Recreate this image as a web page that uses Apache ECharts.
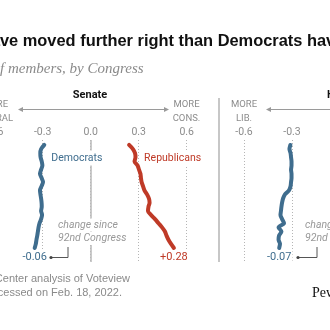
<!DOCTYPE html>
<html>
<head>
<meta charset="utf-8">
<script src="https://cdn.jsdelivr.net/npm/echarts@6/dist/echarts.min.js"></script>
<style>
  html, body { margin: 0; padding: 0; background: #fff; }
  #chart { width: 330px; height: 330px; }
</style>
</head>
<body>
<div id="chart"></div>
<script>
// Congress numbers, top (92nd) to bottom (117th)
const congresses = [92, 93, 94, 95, 96, 97, 98, 99, 100, 101, 102, 103, 104,
  105, 106, 107, 108, 109, 110, 111, 112, 113, 114, 115, 116, 117];

// Average ideology score by party and chamber
const senateDem = [-0.29, -0.31, -0.315, -0.313, -0.306, -0.302, -0.31, -0.317, -0.307,
  -0.298, -0.307, -0.317, -0.314, -0.31, -0.307, -0.306, -0.31, -0.304, -0.31, -0.32,
  -0.326, -0.33, -0.334, -0.339, -0.343, -0.35];
const senateRep = [0.24, 0.264, 0.277, 0.28, 0.274, 0.293, 0.302, 0.311, 0.314, 0.318,
  0.327, 0.336, 0.352, 0.364, 0.368, 0.361, 0.358, 0.377, 0.402, 0.424, 0.446, 0.464,
  0.474, 0.486, 0.502, 0.52];
const houseDem = [-0.31, -0.316, -0.309, -0.306, -0.303, -0.303, -0.306, -0.303, -0.303,
  -0.306, -0.309, -0.319, -0.344, -0.356, -0.362, -0.366, -0.369, -0.372, -0.362, -0.35,
  -0.384, -0.366, -0.381, -0.384, -0.375, -0.38];

// Ideology scale tick values
const xTicks = [-0.6, -0.3, 0.0, 0.3, 0.6];

const DEM = '#3f6d8e';
const REP = '#bf3a27';
const GRAY = '#8c8c8c';
const SANS = 'Roboto';

const first = congresses[0];
const last = congresses[congresses.length - 1];

function pairs(vals) { return vals.map((v, i) => [v, congresses[i]]); }
function changeText(vals) {
  const d = vals[vals.length - 1] - vals[0];
  return (d > 0 ? '+' : '') + d.toFixed(2);
}

const measureCtx = document.createElement('canvas').getContext('2d');
function textWidth(s, font) { measureCtx.font = font; return measureCtx.measureText(s).width; }

function xAxisFor(gridIndex) {
  return {
    gridIndex, type: 'value', position: 'top',
    min: xTicks[0], max: xTicks[xTicks.length - 1], interval: xTicks[1] - xTicks[0],
    axisLine: { show: false }, axisTick: { show: false },
    axisLabel: {
      show: true, margin: 2, color: GRAY, fontFamily: SANS, fontSize: 10.5,
      showMinLabel: true, showMaxLabel: true, hideOverlap: false,
      formatter: v => (Math.abs(v) < 1e-9 ? 0 : v).toFixed(1)
    },
    splitLine: { show: true, lineStyle: { color: '#b5b5b5', width: 1, type: [1, 2] } }
  };
}
function yAxisFor(gridIndex) {
  return { gridIndex, type: 'value', min: 90.8, max: 120.4, inverse: true, show: false };
}

function partyLine(name, vals, color, gi, nameLabel) {
  const mpData = [{
    coord: [vals[vals.length - 1], last],
    label: {
      show: true, formatter: changeText(vals), position: 'inside', offset: [0, 9.5],
      color, fontFamily: SANS, fontSize: 11, backgroundColor: '#fff', padding: [1, 1]
    }
  }];
  if (nameLabel) {
    mpData.push({
      coord: [vals[0], first],
      label: {
        show: true, formatter: name, position: 'inside', align: 'left',
        offset: nameLabel, color, fontFamily: SANS, fontSize: 10.5,
        backgroundColor: '#fff', padding: [2, 1]
      }
    });
  }
  return {
    type: 'line', name, xAxisIndex: gi, yAxisIndex: gi, data: pairs(vals),
    showSymbol: false, smooth: 0.25, z: 3,
    lineStyle: { color, width: 4, cap: 'round', join: 'round' },
    itemStyle: { color },
    markPoint: {
      symbol: 'circle', symbolSize: 1, itemStyle: { color: 'rgba(0,0,0,0)' },
      data: mpData, z: 5
    },
    silent: true, animation: false
  };
}

function zeroLine(gi) {
  return {
    type: 'line', xAxisIndex: gi, yAxisIndex: gi, data: [], z: 1,
    markLine: {
      silent: true, symbol: 'none', label: { show: false },
      lineStyle: { color: '#b8b8b8', width: 1.5, type: 'solid' },
      data: [{ xAxis: 0 }]
    },
    animation: false
  };
}

const titleFont = 'bold 16.4px "Liberation Sans"';
const subFont = 'italic 15px "Liberation Serif"';
const titleText = 'Republicans have moved further right than Democrats have moved left';
const subText = 'Average ideology score of members, by Congress';

const arrowColor = '#9a9a9a';
function arrow(x1, x2, y) {
  return [
    { type: 'line', shape: { x1: x1 + 3, y1: y, x2: x2 - 3, y2: y },
      style: { stroke: arrowColor, lineWidth: 1 }, z: 10 },
    { type: 'polygon', shape: { points: [[x1, y], [x1 + 5, y - 2.5], [x1 + 5, y + 2.5]] },
      style: { fill: arrowColor }, z: 10 },
    { type: 'polygon', shape: { points: [[x2, y], [x2 - 5, y - 2.5], [x2 - 5, y + 2.5]] },
      style: { fill: arrowColor }, z: 10 }
  ];
}
function txt(x, y, text, opts) {
  return Object.assign({ type: 'text', x, y, z: 20,
    style: Object.assign({ text, fill: GRAY, font: '10px ' + SANS,
      textAlign: 'center', textVerticalAlign: 'middle' }, opts || {}) });
}
function bracket(dotX, lineX, y, topY) {
  return [
    { type: 'polyline', shape: { points: [[dotX, y], [lineX, y], [lineX, topY]] },
      style: { stroke: '#555', lineWidth: 1, fill: null }, z: 20 },
    { type: 'circle', shape: { cx: dotX, cy: y, r: 1.6 }, style: { fill: '#444' }, z: 20 }
  ];
}
const noteStyle = { font: 'italic 10.5px ' + SANS, fill: '#999', textAlign: 'left',
  backgroundColor: '#fff', padding: [1, 1] };

const graphics = [
  txt(-textWidth('Republicans ha', titleFont), 41, titleText,
      { font: titleFont, fill: '#111', textAlign: 'left' }),
  txt(-textWidth('Average ideology score o', subFont), 69, subText,
      { font: subFont, fill: '#8a8a8a', textAlign: 'left' }),
  // Senate header
  txt(90, 95, 'Senate', { font: 'bold 11px ' + SANS, fill: '#111' }),
  txt(-5, 105, 'MORE', { font: '9.5px ' + SANS }),
  txt(-5, 119, 'LIBERAL', { font: '9.5px ' + SANS }),
  txt(186.5, 105, 'MORE', { font: '9.5px ' + SANS }),
  txt(186.5, 119, 'CONS.', { font: '9.5px ' + SANS }),
  ...arrow(18, 169, 109.5),
  // House header
  txt(327, 95, 'House', { font: 'bold 11px ' + SANS, fill: '#111', textAlign: 'left' }),
  txt(244, 105, 'MORE', { font: '9.5px ' + SANS }),
  txt(244, 119, 'LIB.', { font: '9.5px ' + SANS }),
  ...arrow(266, 420, 109.5),
  // Divider between chambers
  { type: 'line', shape: { x1: 219, y1: 98, x2: 219, y2: 262 },
    style: { stroke: '#b5b5b5', lineWidth: 1.5 }, z: 10 },
  // Change annotations
  txt(57, 225, 'change since', noteStyle),
  txt(57, 238.5, '92nd Congress', noteStyle),
  ...bracket(51, 68, 257.5, 247),
  txt(304, 225, 'change since', noteStyle),
  txt(304, 238.5, '92nd Congress', noteStyle),
  ...bracket(298, 317, 257.5, 247),
  // Source and credit
  txt(130, 279, 'Source: Pew Research Center analysis of Voteview',
      { font: '11px "Liberation Sans"', fill: '#8a8a8a', textAlign: 'right' }),
  txt(122, 293, 'data, accessed on Feb. 18, 2022.',
      { font: '11px "Liberation Sans"', fill: '#8a8a8a', textAlign: 'right' }),
  txt(312, 293, 'Pew Research Center',
      { font: '14px "Liberation Serif"', fill: '#111', textAlign: 'left' })
];

const chart = echarts.init(document.getElementById('chart'), null, { renderer: 'canvas' });
chart.setOption({
  animation: false,
  backgroundColor: '#fff',
  grid: [
    { left: -5.3, top: 140, width: 192, height: 122, containLabel: false, outerBoundsMode: 'none' },
    { left: 244, top: 140, width: 192, height: 122, containLabel: false, outerBoundsMode: 'none' }
  ],
  xAxis: [xAxisFor(0), xAxisFor(1)],
  yAxis: [yAxisFor(0), yAxisFor(1)],
  series: [
    zeroLine(0),
    zeroLine(1),
    partyLine('Democrats', senateDem, DEM, 0, [6, 13]),
    partyLine('Republicans', senateRep, REP, 0, [14, 13]),
    partyLine('Democrats', houseDem, DEM, 1, null)
  ],
  graphic: graphics
});
</script>
</body>
</html>
